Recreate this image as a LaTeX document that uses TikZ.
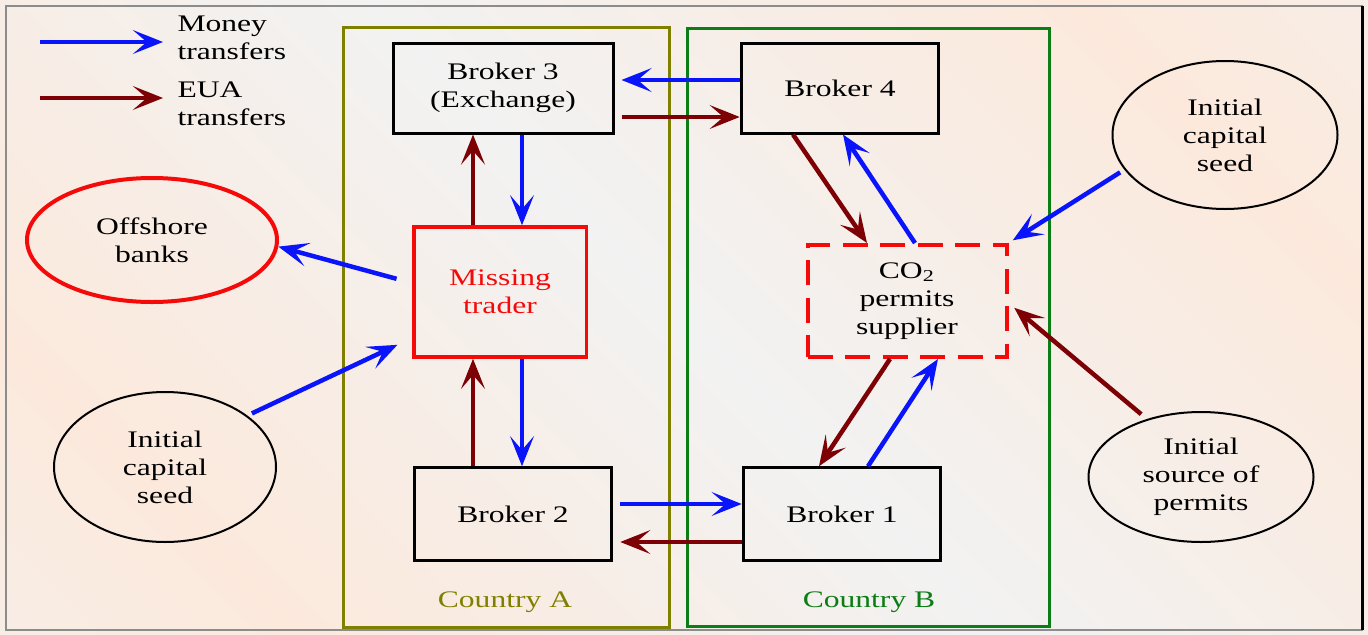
\documentclass[tikz,border=0pt]{standalone}
\usepackage{fontspec}
\setmainfont{Liberation Serif}[FakeStretch=1.33]
\usetikzlibrary{arrows.meta,shapes.geometric}

\definecolor{moneyblue}{RGB}{10,20,250}
\definecolor{euared}{RGB}{125,0,5}
\definecolor{olivec}{RGB}{128,128,0}
\definecolor{greenc}{RGB}{10,125,20}
\definecolor{tradered}{RGB}{245,10,10}
\definecolor{bgpeach}{RGB}{252,233,220}
\definecolor{bggrey}{RGB}{242,242,242}
\definecolor{framegray}{RGB}{140,140,140}
\pgfdeclarehorizontalshading{bgbands}{100bp}{color(0bp)=(bggrey); color(25bp)=(bgpeach); color(50bp)=(bggrey); color(75bp)=(bgpeach); color(100bp)=(bggrey)}

\tikzset{
  flow/.style={line width=1.8pt, -{Stealth[length=12pt,width=9.5pt,inset=5.5pt]}},
  money/.style={flow, draw=moneyblue},
  eua/.style={flow, draw=euared},
  broker/.style={draw, line width=1.2pt, minimum width=79pt, minimum height=37pt, align=center},
  trader/.style={draw=tradered, text=tradered, line width=1.4pt, minimum width=69pt, minimum height=52pt, align=center},
  supplier/.style={draw=tradered, line width=1.6pt, dash pattern=on 10pt off 5pt, minimum width=79.6pt, minimum height=44.8pt, align=center},
  seed/.style={ellipse, draw, line width=0.8pt, inner sep=0pt, align=center},
  bank/.style={ellipse, draw=tradered, line width=1.6pt, inner sep=0pt, minimum width=100pt, minimum height=49.6pt, align=center},
  legend/.style={anchor=west, align=left, inner sep=0pt},
}

\begin{document}
\begin{tikzpicture}[x=0.4pt, y=-0.4pt, font=\fontsize{9.5}{11.2}\selectfont]
\useasboundingbox (0,0) rectangle (1368,634);
\shade[shading=bgbands, shading angle=45] (0,0) rectangle (1368,634);
\draw[framegray, line width=0.8pt] (6,6) rectangle (1362,630);
\draw[black, line width=1.2pt] (1362,6) -- (1362,630);

% countries
\draw[olivec, line width=1.2pt] (343,27) rectangle (669,627);
\draw[greenc, line width=1.2pt] (687,28) rectangle (1049,626);
\node[text=olivec] (cA) at (505,602) {Country A};
\node[text=greenc] (cB) at (869,602) {Country B};

% legend
\coordinate (mleg) at (40,42);
\coordinate (eleg) at (40,98);
\draw[money] (mleg) -- ++(123,0);
\draw[eua] (eleg) -- ++(123,0);
\node[legend] (lmoney) at (177,38) {Money\\transfers};
\node[legend] (leua) at (177,104) {EUA\\transfers};

% actors
\node[broker, minimum width=88pt, minimum height=36pt] (b3) at (503,88) {Broker 3\\(Exchange)};
\node[broker, minimum height=36pt] (b4) at (840,88) {Broker 4};
\node[broker] (b2) at (513,514) {Broker 2};
\node[broker] (b1) at (842,514) {Broker 1};
\node[trader] (mt) at (500,292) {Missing\\trader};
\node[supplier] (co2) at (907,301) {CO\textsubscript{2}\\permits\\supplier};
\node[bank] (off) at (152,240) {Offshore\\banks};
\node[seed, minimum width=88.8pt, minimum height=60pt] (lseed) at (165,467) {Initial\\capital\\seed};
\node[seed, minimum width=90pt, minimum height=59.2pt] (rseed) at (1225,135) {Initial\\capital\\seed};
\node[seed, minimum width=90pt, minimum height=52pt] (src) at (1201,477) {Initial\\source of\\permits};

% transfers
\draw[money, shorten >=2.8pt] (b4.west |- 0,80) -- (b3.east |- 0,80);
\draw[eua, shorten <=2.8pt] (b3.east |- 0,117) -- (b4.west |- 0,117);
\draw[eua] (mt.north -| 473,0) -- (b3.south -| 473,0);
\draw[money] (b3.south -| 522,0) -- (mt.north -| 522,0);
\draw[eua] (b2.north -| 473,0) -- (mt.south -| 473,0);
\draw[money] (mt.south -| 522,0) -- (b2.north -| 522,0);
\draw[money, shorten <=6.4pt] (mt.west |- 0,283) -- (off.357);
\draw[money, shorten <=2pt, shorten >=6.4pt] (lseed.32) -- (mt.west |- 0,338);
\draw[money, shorten <=2.8pt] (b2.east |- 0,504) -- (b1.west |- 0,504);
\draw[eua, shorten >=2.8pt] (b1.west |- 0,542) -- (b2.east |- 0,542);
\draw[eua] (b4.south -| 793,0) -- (co2.north -| 867,0);
\draw[money] (co2.north -| 915,0) -- (b4.south -| 843,0);
\draw[money, shorten <=2pt, shorten >=2pt] (rseed.199) -- (co2.north east);
\draw[eua, shorten <=3pt, shorten >=3pt] (src.133) -- (co2.east |- 0,303);
\draw[eua] (co2.south -| 890,0) -- (b1.north -| 819,0);
\draw[money] (b1.north -| 868,0) -- (co2.south -| 938,0);
\end{tikzpicture}
\end{document}
